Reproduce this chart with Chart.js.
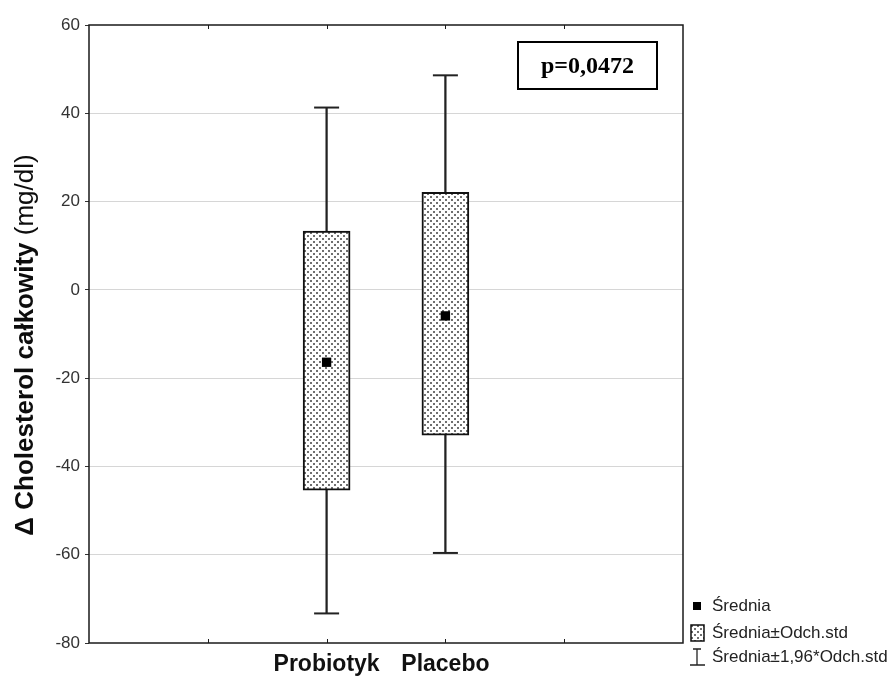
<!DOCTYPE html>
<html><head><meta charset="utf-8">
<script src="https://cdn.jsdelivr.net/npm/chart.js@4.4.1/dist/chart.umd.min.js"></script>
<style>html,body{margin:0;padding:0;background:#fff}canvas{display:block}</style>
</head><body>
<canvas id="c" width="896" height="677"></canvas>
<script>
// ---- data ----
const categories = ['Probiotyk', 'Placebo'];
const means      = [-16.4, -5.9];
const sdLow      = [-45.4, -32.9];   // Średnia - Odch.std
const sdHigh     = [13.3, 22.1];     // Średnia + Odch.std
const ciLow      = [-73.3, -59.6];   // Średnia - 1,96*Odch.std
const ciHigh     = [41.3, 48.6];     // Średnia + 1,96*Odch.std
const yTicks     = [-80, -60, -40, -20, 0, 20, 40, 60];
const pText      = 'p=0,0472';
const yTitleBold = 'Δ Cholesterol całkowity ';
const yTitleNorm = '(mg/dl)';
const legendTexts = ['Średnia', 'Średnia±Odch.std', 'Średnia±1,96*Odch.std'];

// category slot on a 0..5 axis (two empty slots on the left)
const slot = i => i + 2;
const SANS = '"Liberation Sans", Arial, sans-serif';
const SERIF = '"Liberation Serif", "Times New Roman", serif';

function makePattern() {
  const c = document.createElement('canvas');
  c.width = 6; c.height = 6;
  const g = c.getContext('2d');
  g.fillStyle = '#fff'; g.fillRect(0, 0, 6, 6);
  g.fillStyle = '#707070';
  g.fillRect(1, 1, 2, 2);
  g.fillRect(4, 4, 2, 2);
  return g.createPattern(c, 'repeat');
}
const ctx0 = document.getElementById('c').getContext('2d');
const dotPattern = makePattern();

const decorations = {
  id: 'decorations',
  afterDraw(chart) {
    const {ctx, chartArea: a, scales} = chart;
    ctx.save();
    // frame
    ctx.strokeStyle = '#1a1a1a'; ctx.lineWidth = 1.5;
    ctx.strokeRect(a.left, a.top, a.right - a.left, a.bottom - a.top);
    // inward x tick marks
    ctx.lineWidth = 1;
    for (let v = 1; v <= 4; v++) {
      const x = Math.round(scales.x.getPixelForValue(v)) + 0.5;
      ctx.beginPath();
      ctx.moveTo(x, a.bottom); ctx.lineTo(x, a.bottom - 4);
      ctx.moveTo(x, a.top); ctx.lineTo(x, a.top + 4);
      ctx.stroke();
    }
    // y axis title (bold + normal)
    const fb = 'bold 26px ' + SANS, fn = '26px ' + SANS;
    ctx.font = fb; const wb = ctx.measureText(yTitleBold).width;
    ctx.font = fn; const wn = ctx.measureText(yTitleNorm).width;
    const W = wb + wn;
    ctx.translate(33, 345);
    ctx.rotate(-Math.PI / 2);
    ctx.fillStyle = '#0d0d0d';
    ctx.textBaseline = 'alphabetic'; ctx.textAlign = 'left';
    ctx.font = fb; ctx.fillText(yTitleBold, -W / 2, 0);
    ctx.font = fn; ctx.fillText(yTitleNorm, -W / 2 + wb, 0);
    ctx.setTransform(1, 0, 0, 1, 0, 0);
    // p-value box
    const bx = a.right - 165, by = a.top + 17, bw = 139, bh = 47;
    ctx.fillStyle = '#fff'; ctx.fillRect(bx, by, bw, bh);
    ctx.strokeStyle = '#000'; ctx.lineWidth = 2;
    ctx.strokeRect(bx, by, bw, bh);
    ctx.fillStyle = '#000';
    ctx.font = 'bold 24px ' + SERIF;
    ctx.textAlign = 'center'; ctx.textBaseline = 'middle';
    ctx.fillText(pText, bx + bw / 2, by + bh / 2 + 1);
    // legend
    const lx = a.right + 14, ly = a.bottom - 37;
    ctx.textAlign = 'left'; ctx.textBaseline = 'middle';
    ctx.font = '17px ' + SANS;
    // row 1: mean marker
    ctx.fillStyle = '#000'; ctx.fillRect(lx - 4, ly - 4, 8, 8);
    ctx.fillStyle = '#222'; ctx.fillText(legendTexts[0], lx + 15, ly);
    // row 2: box
    const r2 = ly + 27;
    ctx.fillStyle = dotPattern; ctx.fillRect(lx - 6, r2 - 8, 13, 16);
    ctx.strokeStyle = '#111'; ctx.lineWidth = 1.5; ctx.strokeRect(lx - 6, r2 - 8, 13, 16);
    ctx.fillStyle = '#222'; ctx.fillText(legendTexts[1], lx + 15, r2);
    // row 3: whisker
    const r3 = ly + 51;
    ctx.strokeStyle = '#222'; ctx.lineWidth = 1.3;
    ctx.beginPath();
    ctx.moveTo(lx, r3 - 8); ctx.lineTo(lx, r3 + 8);
    ctx.moveTo(lx - 4, r3 - 8); ctx.lineTo(lx + 4, r3 - 8);
    ctx.moveTo(lx - 7, r3 + 8); ctx.lineTo(lx + 8, r3 + 8);
    ctx.stroke();
    ctx.fillStyle = '#222'; ctx.fillText(legendTexts[2], lx + 15, r3);
    ctx.restore();
  }
};

new Chart(ctx0, {
  type: 'bar',
  data: {
    datasets: [
      { // whisker stems
        type: 'bar', label: 'stem', grouped: false, order: 4,
        data: categories.map((c, i) => ({x: slot(i), y: [ciLow[i], ciHigh[i]]})),
        barThickness: 1.6, backgroundColor: '#222', borderWidth: 0
      },
      { // boxes
        type: 'bar', label: 'box', grouped: false, order: 3,
        data: categories.map((c, i) => ({x: slot(i), y: [sdLow[i], sdHigh[i]]})),
        barThickness: 47, backgroundColor: dotPattern,
        borderColor: '#111', borderWidth: 2, borderSkipped: false
      },
      { // caps
        type: 'scatter', label: 'caps', order: 2,
        data: categories.flatMap((c, i) => [{x: slot(i), y: ciLow[i]}, {x: slot(i), y: ciHigh[i]}]),
        pointStyle: 'line', pointRadius: 12.5, borderColor: '#222', borderWidth: 2,
        pointHoverRadius: 12.5
      },
      { // means
        type: 'scatter', label: 'mean', order: 1,
        data: categories.map((c, i) => ({x: slot(i), y: means[i]})),
        pointStyle: 'rect', pointRadius: 6.6, backgroundColor: '#000', borderColor: '#000',
        borderWidth: 0
      }
    ]
  },
  options: {
    responsive: false, animation: false, devicePixelRatio: 1,
    layout: {padding: {left: 49, right: 213, top: 25, bottom: 0}},
    plugins: {legend: {display: false}, tooltip: {enabled: false}},
    scales: {
      x: {
        type: 'linear', min: 0, max: 5, offset: false,
        afterFit: s => { s.height = 34; },
        afterBuildTicks: s => { s.ticks = [0, 1, 2, 3, 4, 5].map(v => ({value: v})); },
        ticks: {
          autoSkip: false, maxRotation: 0, padding: 8,
          callback: v => categories[v - 2] !== undefined ? categories[v - 2] : '',
          font: {family: SANS, size: 23, weight: 'bold'}, color: '#111'
        },
        grid: {drawOnChartArea: false, drawTicks: false},
        border: {display: false}
      },
      y: {
        min: yTicks[0], max: yTicks[yTicks.length - 1],
        afterFit: s => { s.width = 40; },
        afterBuildTicks: s => { s.ticks = yTicks.map(v => ({value: v})); },
        ticks: {font: {family: SANS, size: 17}, color: '#333', padding: 5},
        grid: {
          color: c => (c.tick && (c.tick.value === yTicks[0] || c.tick.value === yTicks[yTicks.length - 1])) ? 'rgba(0,0,0,0)' : '#d6d6d6',
          lineWidth: 1, drawTicks: true, tickLength: 4, tickColor: '#333'
        },
        border: {display: false}
      }
    }
  },
  plugins: [decorations]
});
</script>
</body></html>
